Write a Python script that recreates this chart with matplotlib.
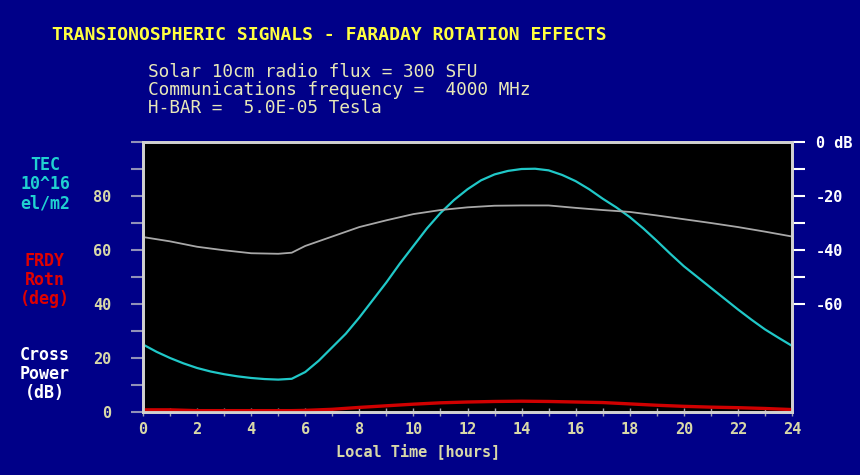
import matplotlib
matplotlib.use('Agg')
import matplotlib.pyplot as plt

# local time (hours) for the TEC curve, half-hour steps
tec_hours = [0, 0.5, 1, 1.5, 2, 2.5, 3, 3.5, 4, 4.5, 5, 5.5, 6, 6.5, 7, 7.5, 8, 8.5, 9, 9.5,
             10, 10.5, 11, 11.5, 12, 12.5, 13, 13.5, 14, 14.5, 15, 15.5, 16, 16.5, 17, 17.5,
             18, 18.5, 19, 19.5, 20, 20.5, 21, 21.5, 22, 22.5, 23, 23.5, 24]
# TEC (10^16 el/m2)
tec = [25, 22.3, 20, 18, 16.3, 15, 14, 13.2, 12.6, 12.2, 12, 12.3, 14.8, 19, 24, 29, 35, 41.5, 48, 55,
       61.5, 68, 73.7, 78.5, 82.5, 85.8, 88, 89.3, 90, 90.1, 89.5, 87.8, 85.5, 82.5, 79, 75.8,
       72.2, 68, 63.4, 58.6, 54, 50, 46, 42, 38, 34.2, 30.6, 27.5, 24.5]

# local time (hours) for rotation and cross power
hours = [0, 1, 2, 3, 4, 5, 5.5, 6, 7, 8, 9, 10, 11, 12, 13, 14, 15, 16, 17, 18, 19, 20, 21, 22, 23, 24]
# Faraday rotation (deg)
frdy = [0.8, 0.8, 0.5, 0.5, 0.5, 0.5, 0.5, 0.6, 1.0, 1.7, 2.3, 2.9, 3.4, 3.7, 3.9, 4.0, 3.9, 3.7, 3.5, 3.0, 2.5, 2.1, 1.8, 1.6, 1.3, 0.9]
# cross power (dB)
cross_db = [-35.2, -36.8, -38.8, -40.1, -41.2, -41.4, -41.0, -38.5, -35, -31.5, -29, -26.7, -25.2, -24.2, -23.6, -23.5, -23.5, -24.4, -25.2, -25.9, -27.2, -28.6, -30, -31.5, -33.2, -35]

left_ticks = list(range(0, 101, 10))
left_labels = ['0', '', '20', '', '40', '', '60', '', '80', '', '']
right_ticks = [0, -10, -20, -30, -40, -50, -60]
right_labels = ['0 dB', '', '-20', '', '-40', '', '-60']
x_ticks = list(range(0, 25))
x_labels = [str(h) if h % 2 == 0 else '' for h in x_ticks]

BG = '#000088'
BEIGE = '#D8D8A8'
MONO = 'DejaVu Sans Mono'

fig = plt.figure(figsize=(8.6, 4.75), dpi=100, facecolor=BG)
ax = fig.add_axes([143 / 860, 1 - 412 / 475, 649 / 860, 270 / 475])
ax.set_facecolor('black')

ax.plot(tec_hours, tec, color='#20C8C8', linewidth=1.6, zorder=3)
ax.plot(hours, frdy, color='#D00000', linewidth=2.4, zorder=3)

ax.set_xlim(0, 24)
ax.set_ylim(0, 100)
ax.set_xticks(x_ticks)
ax.set_xticklabels(x_labels, fontfamily=MONO, fontsize=11, fontweight='bold', color=BEIGE)
ax.set_yticks(left_ticks)
ax.set_yticklabels(left_labels, fontfamily=MONO, fontsize=11, fontweight='bold', color=BEIGE)
ax.tick_params(axis='x', direction='inout', length=6, width=1, color='#A0A0B0', pad=4)
ax.tick_params(axis='y', direction='out', length=9, width=1.5, color='#9090B8', pad=14)

ax.set_xlabel('Local Time [hours]', fontfamily=MONO, fontsize=11, fontweight='bold', color=BEIGE, labelpad=2)
ax.xaxis.set_label_coords((418 - 143) / 649, -0.115)

for sp in ax.spines.values():
    sp.set_color('#D0D0D0')
    sp.set_linewidth(2)

ax2 = ax.twinx()
ax2.plot(hours, cross_db, color='#A8A8A8', linewidth=1.3, zorder=2)
ax2.set_ylim(-100, 0)
ax2.set_yticks(right_ticks)
ax2.set_yticklabels(right_labels, fontfamily=MONO, fontsize=11, fontweight='bold', color='white')
ax2.tick_params(axis='y', direction='out', length=9, width=1.5, color='white', pad=8)
for sp in ax2.spines.values():
    sp.set_color('#D0D0D0')
    sp.set_linewidth(2)

# header text
fig.text(52 / 860, 1 - 35 / 475, 'TRANSIONOSPHERIC SIGNALS - FARADAY ROTATION EFFECTS',
         fontfamily=MONO, fontsize=13, fontweight='bold', color='#FFFF40', va='center')
header = ['Solar 10cm radio flux = 300 SFU',
          'Communications frequency =  4000 MHz',
          'H-BAR =  5.0E-05 Tesla']
for i, line in enumerate(header):
    fig.text(148 / 860, 1 - (72 + 18 * i) / 475, line, fontfamily=MONO, fontsize=12.8,
             color='#E8E8B8', va='center')

# left-side series labels
side_labels = [('TEC\n10^16\nel/m2', '#20D0D0', 184),
               ('FRDY\nRotn\n(deg)', '#E00000', 280),
               ('Cross\nPower\n(dB)', 'white', 374)]
for txt, col, yc in side_labels:
    fig.text(45 / 860, 1 - yc / 475, txt, fontfamily=MONO, fontsize=12, fontweight='bold',
             color=col, ha='center', va='center', linespacing=1.1)

fig.savefig('out.png', dpi=100, facecolor=BG)
